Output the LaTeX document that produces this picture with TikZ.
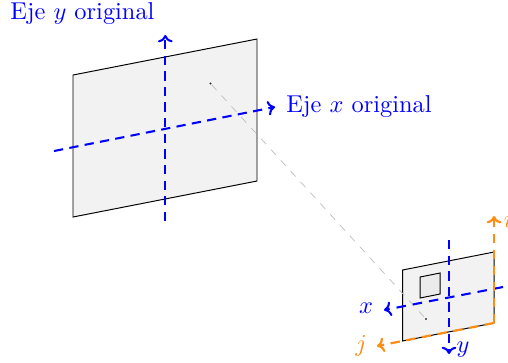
\documentclass[tikz,border=0pt]{standalone}
\usetikzlibrary{calc,arrows.meta}
\definecolor{axisorange}{RGB}{255,140,20}
\definecolor{axisbl}{RGB}{0,0,255}
\tikzset{
  plane/.style={draw=black,fill=black!5,line width=0.4pt},
  axisblue/.style={draw=axisbl,dash pattern=on 3.8pt off 2.6pt,line width=0.85pt,-{To[length=3pt,width=6pt]}},
  axisbluewide/.style={draw=axisbl,dash pattern=on 3.9pt off 2.86pt,line width=0.85pt,-{To[length=3pt,width=6pt]}},
  axisor/.style={draw=axisorange,dash pattern=on 3.9pt off 2.66pt,line width=0.9pt,-{To[length=3pt,width=6pt]}},
  ray/.style={draw=black!25,dashed,line width=0.3pt},
  bl/.style={text=axisbl,inner sep=0pt},
  ol/.style={text=axisorange,inner sep=0pt},
  dotp/.style={circle,fill=black!80,inner sep=0pt,minimum size=1pt}
}
\begin{document}
\begin{tikzpicture}[x=0.41pt,y=-0.41pt]
\useasboundingbox (0,0) rectangle (508,362);
% large plane
\coordinate (A1) at (73,75);
\coordinate (A2) at (257,39);
\coordinate (A3) at (257,181);
\coordinate (A4) at (73,217);
\draw[plane] (A1) -- (A2) -- (A3) -- (A4) -- cycle;
% small plane
\coordinate (B1) at (402.5,270);
\coordinate (B2) at (494,252);
\coordinate (B3) at (494,323);
\coordinate (B4) at (402.5,341);
\draw[plane] (B1) -- (B2) -- (B3) -- (B4) -- cycle;
% window
\coordinate (C1) at (420,277);
\coordinate (C2) at (440,273);
\coordinate (C3) at (440,294);
\coordinate (C4) at (420,298);
\draw[plane,fill=black!8] (C1) -- (C2) -- (C3) -- (C4) -- cycle;
% ray
\node[dotp] (P) at (210.5,83.5) {};
\node[dotp] (Q) at (426,319) {};
\draw[ray] (P) -- (Q);
% big axes
\coordinate (xa) at (54,151);
\coordinate (xb) at (275,107);
\coordinate (ya) at (165.3,221);
\coordinate (yb) at (165.3,35);
\draw[axisblue] (xa) -- (xb);
\draw[axisblue] (ya) -- (yb);
% small blue axes
\coordinate (sxa) at (503,287);
\coordinate (sxb) at (384,310);
\coordinate (sya) at (449,240);
\coordinate (syb) at (449,354);
\draw[axisbluewide] (sxa) -- (sxb);
\draw[axisblue] (sya) -- (syb);
% orange axes
\coordinate (jb) at (377,346);
\coordinate (ib) at (494,216);
\draw[axisor] (B3) -- (jb);
\draw[axisor] (B3) -- (ib);
% labels
\node[bl,anchor=base west] (ly) at (10,19) {Eje $y$ original};
\node[bl,anchor=base west] (lx) at (286,112) {Eje $x$ original};
\node[bl] (sx) at (366,308) {$x$};
\node[bl] (sy) at (463,350) {$y$};
\node[ol] (sj) at (361,346) {$j$};
\node[ol] (si) at (508,219) {$i$};
\end{tikzpicture}
\end{document}
